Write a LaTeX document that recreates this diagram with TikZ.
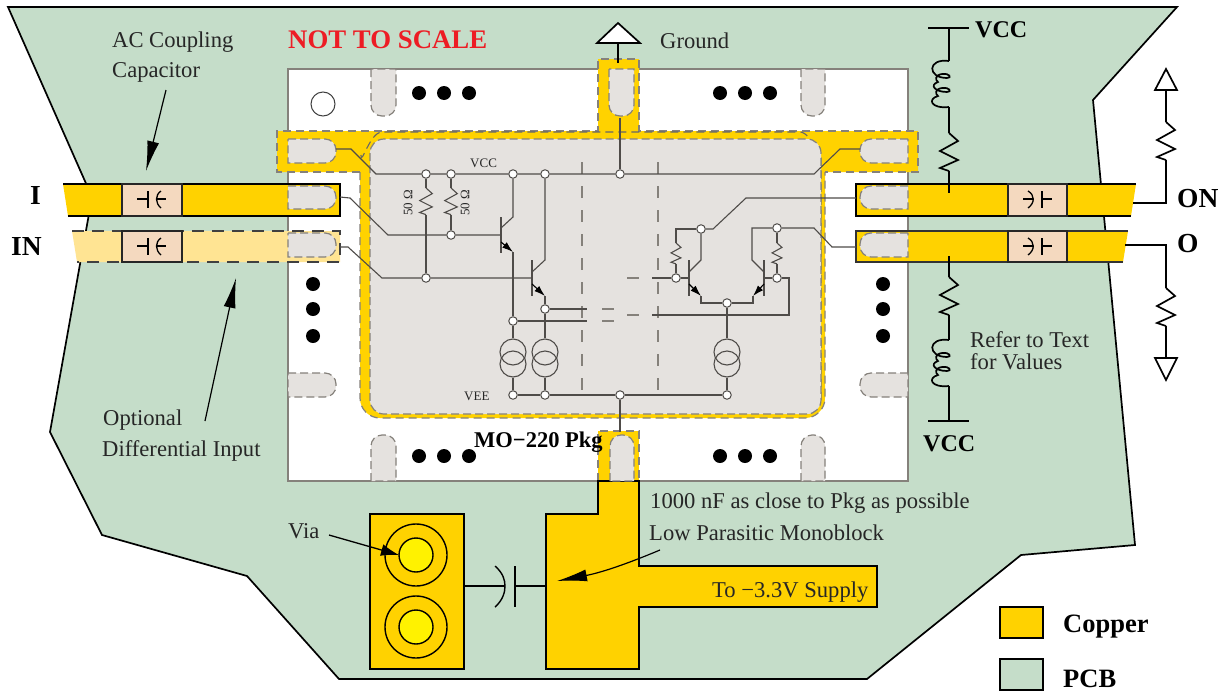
\documentclass[tikz,border=0pt]{standalone}
\usepackage{fontspec}
\setmainfont{Liberation Serif}
\usetikzlibrary{arrows.meta}

\definecolor{pcbgreen}{HTML}{C5DDC9}
\definecolor{copper}{HTML}{FFD200}
\definecolor{palecopper}{HTML}{FFE493}
\definecolor{capskin}{HTML}{F4D9BF}
\definecolor{padgray}{HTML}{E5E2DF}
\definecolor{dashgray}{HTML}{85817B}
\definecolor{wiregray}{HTML}{4F4C49}
\definecolor{viayellow}{HTML}{FFF200}
\definecolor{warnred}{HTML}{ED1C24}

\tikzset{
  note/.style={anchor=base west, inner sep=0pt, text=black!85, font=\fontsize{22.6}{26}\selectfont},
  heading/.style={anchor=base west, inner sep=0pt, font=\fontsize{22.5}{26}\bfseries\selectfont},
  rail/.style={anchor=base west, inner sep=0pt, font=\fontsize{24}{28}\bfseries\selectfont},
  pinname/.style={anchor=base west, inner sep=0pt, font=\fontsize{27.5}{30}\bfseries\selectfont},
  legendname/.style={anchor=base west, inner sep=0pt, font=\fontsize{26.5}{30}\bfseries\selectfont},
  tiny/.style={inner sep=0pt, text=black!85, font=\fontsize{13}{15}\selectfont},
  heavy/.style={line width=1.7pt, black},
  wire/.style={line width=1.1pt, wiregray},
  pad/.style={fill=padgray, draw=dashgray, line width=1.2pt, dash pattern=on 8pt off 4pt},
  frameline/.style={line width=1.2pt, dashgray, dash pattern=on 8pt off 5pt},
  gridline/.style={line width=1.2pt, dashgray, dash pattern=on 12pt off 12pt},
  junct/.style={circle, draw=wiregray, fill=white, line width=1pt, minimum size=8.5pt, inner sep=0pt},
  ring/.style={circle, draw=wiregray, line width=1.1pt, minimum size=26pt, inner sep=0pt},
  capbox/.style={fill=capskin, draw=black!85, line width=1.4pt},
  holedot/.style={circle, fill=black, minimum size=14pt, inner sep=0pt},
  pointer/.style={line width=1.2pt, black, -{Latex[length=30pt,width=12pt]}},
  emitter/.style={line width=1.1pt, black, -{Latex[length=11pt,width=7pt]}},
  zig/.pic={\draw (0,0) -- (9,8) -- (-9,18) -- (9,27) -- (-9,35) -- (0,38);},
  coil/.pic={\draw (0,0) .. controls (-22,-3) and (-22,17) .. (-2,17)
     .. controls (3,17) and (1,12) .. (-7,13) .. controls (-14,14) and (-14,19) .. (-11,21)
     .. controls (-20,24) and (-14,31) .. (-2,31)
     .. controls (3,31) and (1,26) .. (-7,27) .. controls (-14,28) and (-14,33) .. (-11,35)
     .. controls (-22,38) and (-18,48) .. (0,46);},
}

\begin{document}
\begin{tikzpicture}[x=1pt,y=-1pt]
\useasboundingbox (0,0) rectangle (1223,691);

% board
\draw[heavy, fill=pcbgreen] (8,7) -- (1177,7) -- (1093,100) -- (1135,545) -- (1021,555) -- (867,679)
  -- (339,679) -- (247,576) -- (102,535) -- (50,432) -- (92,197) -- cycle;
\draw[line width=1.2pt, draw=dashgray, fill=white] (288,69) rectangle (908,481);

% copper frame of the package
\fill[copper] (277,131) -- (598,131) -- (598,59) -- (639,59) -- (639,131) -- (918,131) -- (918,172)
  -- (825,172) -- (825,300) [rounded corners=20pt] -- (825,418) -- (360,418) -- (360,300) [sharp corners]
  -- (360,172) -- (277,172) -- cycle;
\draw[frameline] (360,172) -- (277,172) -- (277,131) -- (598,131)
  -- (598,59) -- (639,59) -- (639,131) -- (918,131) -- (918,172) -- (825,172);
\draw[frameline] (360,172) -- (360,300) [rounded corners=20pt] -- (360,418) -- (825,418) -- (825,300) [sharp corners] -- (825,172);
\draw[line width=1.1pt, black!60, dash pattern=on 8pt off 5pt] (361,155) to[out=-90,in=180] (382,132) -- (800,132) to[out=0,in=-90] (821,155) -- (821,400);
\draw[pad, rounded corners=14pt] (370,139) rectangle (821,414);

% bottom stub and supply
\draw[fill=copper, draw=dashgray, line width=1.2pt, dash pattern=on 8pt off 5pt] (598,481) -- (598,431) -- (639,431) -- (639,481);
\draw[heavy, fill=copper] (598,481) -- (639,481) -- (639,566) -- (877,566) -- (877,607) -- (639,607) -- (639,669)
  -- (546,669) -- (546,514) -- (598,514) -- cycle;
\draw[heavy, fill=copper] (370,514) rectangle (464,669);
\draw[line width=1.4pt, fill=none] (416,555) circle (31pt);
\draw[line width=1.4pt, fill=viayellow] (416,555) circle (17pt);
\draw[line width=1.4pt, fill=none] (416,627) circle (31pt);
\draw[line width=1.4pt, fill=viayellow] (416,627) circle (17pt);

% decoupling capacitor
\coordinate (blockL) at (464,586);
\coordinate (blockR) at (546,586);
\coordinate (plateL) at (505,586);
\coordinate (plateR) at (515,586);
\draw[line width=1.3pt] (blockL) -- (plateL);
\draw[line width=1.3pt] (plateR) -- (blockR);
\draw[line width=1.4pt] (495,566) .. controls (503,573) and (505,580) .. (plateL) .. controls (505,592) and (503,600) .. (495,607);
\draw[line width=1.4pt] (515,566) -- (515,607);

% traces
\draw[heavy, fill=copper] (63,184) -- (340,184) -- (340,216) -- (68,216);
\fill[palecopper] (72,231) -- (340,231) -- (340,262) -- (77,262) -- cycle;
\draw[line width=1.4pt, black!75, dash pattern=on 12pt off 8pt] (72,231) -- (340,231) -- (340,262) -- (77,262);
\draw[heavy, fill=copper] (1136,184) -- (856,184) -- (856,216) -- (1131,216);
\draw[line width=1.5pt, black!80, fill=copper] (1128,231) -- (856,231) -- (856,262) -- (1123,262);

\draw[capbox] (122,184) rectangle (182,216);
\draw[capbox] (122,231) rectangle (182,262);
\draw[capbox] (1008,184) rectangle (1067,216);
\draw[capbox] (1008,231) rectangle (1067,262);

% capacitor symbols
\draw[line width=1.3pt] (137,199) -- (148,199) (148,191) -- (148,208) (156,199) -- (166,199);
\draw[line width=1.3pt] (161,191) .. controls (155,195) and (155,203) .. (161,208);
\draw[line width=1.3pt] (137,246) -- (148,246) (148,238) -- (148,255) (156,246) -- (166,246);
\draw[line width=1.3pt] (161,238) .. controls (155,242) and (155,250) .. (161,255);
\draw[line width=1.3pt] (1023,199) -- (1033,199) (1042,191) -- (1042,208) (1042,199) -- (1052,199);
\draw[line width=1.3pt] (1028,191) .. controls (1035,195) and (1035,203) .. (1028,208);
\draw[line width=1.3pt] (1023,246) -- (1033,246) (1042,238) -- (1042,255) (1042,246) -- (1052,246);
\draw[line width=1.3pt] (1028,238) .. controls (1035,242) and (1035,250) .. (1028,255);

% pads
\draw[pad] (288,139) -- (300,139) [rounded corners=11pt] -- (336,139) -- (336,163) -- (300,163) [sharp corners] -- (288,163) -- cycle;
\draw[pad] (288,186) -- (300,186) [rounded corners=11pt] -- (336,186) -- (336,209) -- (300,209) [sharp corners] -- (288,209) -- cycle;
\draw[pad] (288,233) -- (300,233) [rounded corners=11pt] -- (336,233) -- (336,257) -- (300,257) [sharp corners] -- (288,257) -- cycle;
\draw[pad] (288,373) -- (300,373) [rounded corners=11pt] -- (336,373) -- (336,397) -- (300,397) [sharp corners] -- (288,397) -- cycle;
\draw[pad] (908,139) -- (896,139) [rounded corners=11pt] -- (860,139) -- (860,163) -- (896,163) [sharp corners] -- (908,163) -- cycle;
\draw[pad] (908,186) -- (896,186) [rounded corners=11pt] -- (860,186) -- (860,209) -- (896,209) [sharp corners] -- (908,209) -- cycle;
\draw[pad] (908,233) -- (896,233) [rounded corners=11pt] -- (860,233) -- (860,257) -- (896,257) [sharp corners] -- (908,257) -- cycle;
\draw[pad] (908,373) -- (896,373) [rounded corners=11pt] -- (860,373) -- (860,397) -- (896,397) [sharp corners] -- (908,397) -- cycle;
\draw[pad] (371,69) -- (371,80) [rounded corners=11pt] -- (371,116) -- (396,116) -- (396,80) [sharp corners] -- (396,69) -- cycle;
\draw[pad] (609,69) -- (609,80) [rounded corners=11pt] -- (609,116) -- (634,116) -- (634,80) [sharp corners] -- (634,69) -- cycle;
\draw[pad] (801,69) -- (801,80) [rounded corners=11pt] -- (801,116) -- (825,116) -- (825,80) [sharp corners] -- (825,69) -- cycle;
\draw[pad] (371,481) -- (371,470) [rounded corners=11pt] -- (371,435) -- (396,435) -- (396,470) [sharp corners] -- (396,481) -- cycle;
\draw[pad] (610,481) -- (610,470) [rounded corners=11pt] -- (610,435) -- (634,435) -- (634,470) [sharp corners] -- (634,481) -- cycle;
\draw[pad] (801,481) -- (801,470) [rounded corners=11pt] -- (801,435) -- (825,435) -- (825,470) [sharp corners] -- (825,481) -- cycle;

% pin dots
\node[holedot] (d1) at (419,93) {};
\node[holedot] (d2) at (444,93) {};
\node[holedot] (d3) at (469,93) {};
\node[holedot] (d4) at (720,93) {};
\node[holedot] (d5) at (745,93) {};
\node[holedot] (d6) at (770,93) {};
\node[holedot] (d7) at (419,456) {};
\node[holedot] (d8) at (444,456) {};
\node[holedot] (d9) at (469,456) {};
\node[holedot] (d10) at (720,456) {};
\node[holedot] (d11) at (745,456) {};
\node[holedot] (d12) at (770,456) {};
\node[holedot] (d13) at (313,284) {};
\node[holedot] (d14) at (313,309) {};
\node[holedot] (d15) at (313,336) {};
\node[holedot] (d16) at (883,284) {};
\node[holedot] (d17) at (883,309) {};
\node[holedot] (d18) at (883,336) {};
\node[circle, draw=black!75, fill=white, line width=1pt, minimum size=24pt, inner sep=0pt] (pin1) at (323,104) {};

% dashed grid of the die
\draw[gridline] (582,162) -- (582,395);
\draw[gridline] (658,162) -- (658,395);

% junctions
\node[junct] (vcc1) at (426,174) {};
\node[junct] (vcc2) at (451,174) {};
\node[junct] (vcc3) at (513,174) {};
\node[junct] (vcc4) at (545,174) {};
\node[junct] (vcc5) at (620,174) {};
\node[junct] (inp) at (451,235) {};
\node[junct] (inn) at (426,278) {};
\node[junct] (em1) at (513,321) {};
\node[junct] (em2) at (545,309) {};
\node[junct] (vee1) at (513,395) {};
\node[junct] (vee2) at (545,395) {};
\node[junct] (vee3) at (620,395) {};
\node[junct] (vee4) at (727,395) {};
\node[junct] (col3) at (701,229) {};
\node[junct] (col4) at (777,228) {};
\node[junct] (base3) at (676,278) {};
\node[junct] (base4) at (777,278) {};
\node[junct] (tail) at (727,303) {};
\node[ring] (s1a) at (513,352) {};
\node[ring] (s1b) at (513,364) {};
\node[ring] (s2a) at (545,352) {};
\node[ring] (s2b) at (545,364) {};
\node[ring] (s3a) at (727,352) {};
\node[ring] (s3b) at (727,364) {};

\coordinate (padA) at (336,149);
\coordinate (padB) at (340,197);
\coordinate (padC) at (340,247);
\coordinate (padD) at (860,149);
\coordinate (padE) at (856,198);
\coordinate (padF) at (856,247);
\coordinate (gndpad) at (620,118);
\coordinate (botpad) at (620,432);

% rails and inputs
\draw[wire] (padA) -- (351,149) -- (376,174) -- (vcc1) -- (vcc2) -- (vcc3) -- (vcc4) -- (vcc5) -- (814,174) -- (840,149) -- (padD);
\draw[wire] (vee1) -- (vee2) -- (vee3) -- (vee4);
\draw[wire] (gndpad) -- (vcc5);
\draw[wire] (vee3) -- (botpad);
\draw[wire] (padB) -- (350,198) -- (388,235) -- (inp) -- (501,235);
\draw[wire] (padC) -- (348,247) -- (382,278) -- (inn) -- (532,278);

% 50 ohm terminations
\draw[wire] (vcc1) -- (426,188);
\draw[wire] (vcc2) -- (451,188);
\pic[wire, scale=.7] at (426,188) {zig};
\pic[wire, scale=.7] at (451,188) {zig};
\draw[wire] (426,215) -- (inn);
\draw[wire] (451,215) -- (inp);

% left pair
\draw[line width=1.3pt, wiregray] (501,217) -- (501,253);
\draw[wire] (vcc3) -- (513,217) -- (501,228);
\draw[emitter] (501,242) -- (513,252);
\draw[wire] (513,252) -- (em1);
\draw[wire] (em1) -- (s1a);
\draw[wire] (s1b) -- (vee1);
\draw[line width=1.3pt, wiregray] (532,260) -- (532,296);
\draw[wire] (vcc4) -- (545,260) -- (532,272);
\draw[emitter] (532,284) -- (545,296);
\draw[wire] (545,296) -- (em2);
\draw[wire] (em2) -- (s2a);
\draw[wire] (s2b) -- (vee2);

% links across the dashed gap
\draw[wire] (em2) -- (587,309);
\draw[wire] (em1) -- (587,321);
\draw[gridline] (602,309) -- (614,309);
\draw[gridline] (602,321) -- (614,321);
\draw[gridline] (627,315) -- (639,315);
\draw[wire] (652,315) -- (789,315) -- (789,278) -- (base4);
\draw[gridline] (627,278) -- (639,278);
\draw[wire] (652,278) -- (base3);

% right pair
\draw[line width=1.3pt, wiregray] (689,260) -- (689,296);
\draw[wire] (base3) -- (689,278);
\draw[wire] (689,272) -- (701,260) -- (col3);
\draw[emitter] (689,284) -- (701,296);
\draw[wire] (701,296) -- (701,303) -- (tail);
\draw[line width=1.3pt, wiregray] (764,260) -- (764,296);
\draw[wire] (base4) -- (764,278);
\draw[wire] (764,272) -- (752,260) -- (752,228) -- (col4);
\draw[emitter] (764,284) -- (753,296);
\draw[wire] (753,296) -- (753,303) -- (tail);
\draw[wire] (tail) -- (s3a);
\draw[wire] (s3b) -- (vee4);
\draw[wire] (col3) -- (676,229) -- (676,243);
\pic[wire, scale=.55] at (676,243) {zig};
\draw[wire] (676,264) -- (base3);
\draw[wire] (col4) -- (777,243);
\pic[wire, scale=.55] at (777,243) {zig};
\draw[wire] (777,264) -- (base4);
\draw[wire] (col3) -- (713,229) -- (746,198) -- (padE);
\draw[wire] (col4) -- (814,228) -- (832,247) -- (padF);

% ground
\draw[heavy, fill=white] (618,23) -- (640,43) -- (597,43) -- cycle;
\coordinate (gndtop) at (618,43);
\coordinate (gndend) at (618,63);
\draw[heavy] (gndtop) -- (gndend);

% bias networks
\coordinate (topbar) at (949,28);
\coordinate (topend) at (949,193);
\draw[heavy] (928,28) -- (969,28);
\draw[heavy] (topbar) -- (949,61);
\pic[heavy] at (949,61) {coil};
\draw[heavy] (949,107) -- (949,133);
\pic[heavy] at (949,133) {zig};
\draw[heavy] (949,171) -- (topend);

\coordinate (lowstart) at (949,256);
\coordinate (lowbar) at (949,421);
\draw[heavy] (lowstart) -- (949,277);
\pic[heavy] at (949,277) {zig};
\draw[heavy] (949,315) -- (949,340);
\pic[heavy] at (949,340) {coil};
\draw[heavy] (949,386) -- (lowbar);
\draw[heavy] (928,421) -- (969,421);

% terminations
\coordinate (onstart) at (1133,203);
\coordinate (ostart) at (1125,245);
\draw[heavy] (onstart) -- (1166,203) -- (1166,160);
\pic[heavy] at (1166,122) {zig};
\draw[heavy] (1166,122) -- (1166,90);
\draw[heavy, fill=white] (1166,69) -- (1177,90) -- (1155,90) -- cycle;
\draw[heavy] (ostart) -- (1166,245) -- (1166,288);
\pic[heavy] at (1166,288) {zig};
\draw[heavy] (1166,326) -- (1166,358);
\draw[heavy, fill=white] (1166,380) -- (1177,358) -- (1155,358) -- cycle;

% pointers
\coordinate (captail) at (166,90);
\coordinate (captip) at (146,171);
\coordinate (opttail) at (205,421);
\coordinate (opttip) at (236,278);
\coordinate (viatail) at (329,535);
\coordinate (viatip) at (399,555);
\coordinate (monotail) at (660,550);
\coordinate (monotip) at (557,581);
\draw[pointer] (captail) -- (captip);
\draw[pointer] (opttail) -- (opttip);
\draw[line width=1.3pt, black, -{Latex[length=18pt,width=12pt]}] (viatail) -- (viatip);
\draw[pointer] (monotail) to[bend left=6] (monotip);

% texts
\node[note] (accap) at (112,47) {AC Coupling};
\node[note] (accap2) at (112,77) {Capacitor};
\node[anchor=base west, inner sep=0pt, text=warnred, font=\fontsize{26.8}{30}\bfseries\selectfont] (scale) at (288,48) {NOT TO SCALE};
\node[note] (ground) at (660,48) {Ground};
\node[rail] (vcctop) at (975,37) {VCC};
\node[rail] (vccbot) at (923,451) {VCC};
\node[note] (refer) at (970,347) {Refer to Text};
\node[note] (refer2) at (970,369) {for Values};
\node[note] (opt) at (103,425) {Optional};
\node[note] (opt2) at (102,456) {Differential Input};
\node[note] (via) at (288,538) {Via};
\node[heading] (pkg) at (474,447) {MO−220 Pkg};
\node[note] (close) at (650,508) {1000 nF as close to Pkg as possible};
\node[note] (mono) at (649,540) {Low Parasitic Monoblock};
\node[note] (supply) at (712,597) {To −3.3V Supply};
\node[pinname] (pinI) at (30,204) {I};
\node[pinname] (pinIN) at (11,255) {IN};
\node[pinname] (pinON) at (1177,207) {ON};
\node[pinname] (pinO) at (1177,252) {O};
\node[tiny, anchor=base west] (vccsmall) at (470,167) {VCC};
\node[tiny, anchor=base west] (veesmall) at (464,400) {VEE};
\node[tiny, rotate=90] (r50a) at (408,203) {50 Ω};
\node[tiny, rotate=90] (r50b) at (465,203) {50 Ω};

% legend
\draw[line width=2pt, fill=copper] (1000,607) rectangle (1043,638);
\draw[line width=2pt, fill=pcbgreen] (1000,659) rectangle (1043,689.5);
\node[legendname] (copperlab) at (1063,632) {Copper};
\node[legendname] (pcblab) at (1063,687) {PCB};
\end{tikzpicture}
\end{document}
